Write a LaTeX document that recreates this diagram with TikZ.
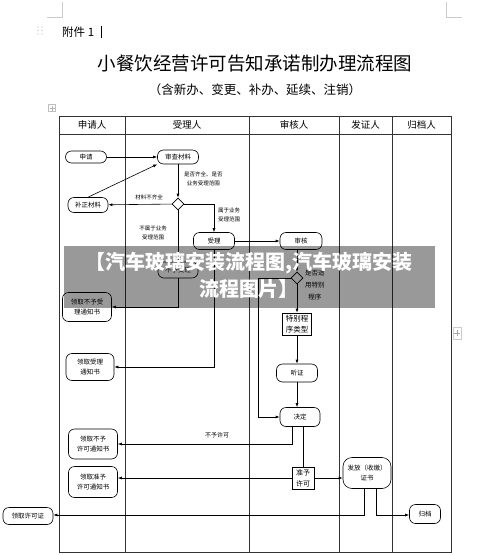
\documentclass[tikz,border=0pt]{standalone}
\usepackage{fontspec}
\setmainfont{Noto Sans CJK SC}
\usetikzlibrary{arrows.meta,shapes.geometric}

\tikzset{
  lane/.style={line width=0.7pt, black!80},
  stepbox/.style={draw, rounded corners=6pt, line width=0.6pt, inner sep=1pt,
    align=center, font=\fontsize{6.5}{10}\selectfont},
  sqbox/.style={draw, line width=0.6pt, inner sep=1pt, align=center,
    font=\fontsize{7.5}{11.5}\selectfont},
  choice/.style={draw, diamond, line width=0.6pt, minimum width=12pt,
    minimum height=12pt, inner sep=0pt},
  flow/.style={line width=0.6pt, -{Latex[length=4pt,width=3pt]}},
  plain/.style={line width=0.6pt},
  note/.style={font=\fontsize{5.5}{9}\selectfont, align=center, inner sep=0pt},
}

\begin{document}
\begin{tikzpicture}[x=1pt,y=-1pt]
\useasboundingbox (0,0) rectangle (500,555);
% page corner marks and handles
\draw[gray!40, line width=0.6pt] (62,2) -- (62,17) -- (47,17);
\draw[gray!40, line width=0.6pt] (446,2) -- (446,17) -- (462,17);
\foreach \x in {38,42} \foreach \y in {27,30.5,34} \fill[gray!60] (\x,\y) circle (0.6);
\node[anchor=west, font=\fontsize{11.5}{13}\selectfont, inner sep=0pt] (annex) at (62,32) {附件 1};
\draw[line width=0.6pt] (101,26) -- (101,38); % cursor
\node[font=\fontsize{18.5}{20}\selectfont] (title) at (255,64) {小餐饮经营许可告知承诺制办理流程图};
\node[font=\fontsize{12.5}{14}\selectfont] (subtitle) at (255,90) {（含新办、变更、补办、延续、注销）};
\draw[gray!50, line width=0.4pt] (48.5,104.5) rectangle (55.5,111.5);
\draw[gray!60, line width=0.4pt] (52,105.5) -- (52,110.5) (49.5,108) -- (54.5,108);
\draw[gray!40, line width=0.4pt] (453,327) rectangle (461,339);
\draw[gray!70, line width=0.4pt] (457,330) -- (457,336) (454,333) -- (460,333);

% swim lanes
\draw[lane] (59,116) rectangle (451,552);
\draw[lane] (59,134) -- (451,134);
\foreach \x in {125,249,339,392} \draw[lane] (\x,116) -- (\x,552);
\foreach \x/\t [count=\i] in {92/申请人, 187/受理人, 294/审核人, 365.5/发证人, 421.5/归档人}
  \node[font=\fontsize{9.5}{11}\selectfont] (head\i) at (\x,125) {\t};

% steps
\node[stepbox, minimum width=41pt, minimum height=12pt] (apply) at (86,157) {申请};
\node[stepbox, minimum width=41pt, minimum height=14pt] (check) at (178,157) {审查材料};
\node[stepbox, minimum width=40pt, minimum height=15pt] (supp) at (88,205) {补正材料};
\node[choice] (dec1) at (178,204) {};
\node[stepbox, minimum width=40pt, minimum height=16pt] (reject) at (178,270) {不予受理};
\node[stepbox, minimum width=49pt, minimum height=29pt] (rejnote) at (87,307) {领取不予受\\理通知书};
\node[stepbox, minimum width=41pt, minimum height=17pt] (accept) at (214,241) {受理};
\node[stepbox, minimum width=42pt, minimum height=17pt] (review) at (301,241) {审核};
\node[stepbox, minimum width=48pt, minimum height=27pt] (accnote) at (90,367) {领取受理\\通知书};
\node[choice] (dec2) at (297,278) {};
\node[sqbox, minimum width=29pt, minimum height=22pt] (special) at (297,324) {特别程\\序类型};
\node[stepbox, minimum width=41pt, minimum height=18pt] (hearing) at (297,373) {听证};
\node[stepbox, minimum width=40pt, minimum height=19pt] (decide) at (300,417) {决定};
\node[stepbox, minimum width=49pt, minimum height=30pt] (deny) at (93,444) {领取不予\\许可通知书};
\node[sqbox, minimum width=22pt, minimum height=22pt, font=\fontsize{7}{11}\selectfont] (grant) at (303,478) {准予\\许可};
\node[stepbox, minimum width=49pt, minimum height=31pt] (granote) at (93,482) {领取准予\\许可通知书};
\node[stepbox, rounded corners=9pt, minimum width=48pt, minimum height=31pt] (issue) at (367,473) {发放（收缴）\\证书};
\node[stepbox, minimum width=31pt, minimum height=19pt] (archive) at (425,514) {归档};
\node[stepbox, minimum width=50pt, minimum height=17pt] (licence) at (28,516) {领取许可证};
\coordinate (bypass) at (258,278);
\coordinate (split) at (364,515);
\coordinate (split2) at (376,515);

% connectors
\draw[flow] (apply) -- (check);
\draw[flow] (supp.north) -- (check.south west);
\draw[flow] (check) -- (dec1);
\draw[flow] (dec1) -- (supp);
\draw[flow] (dec1.east) -| (accept.north);
\draw[flow] (dec1) -- (reject);
\draw[flow] (reject.south) |- (rejnote.east);
\draw[flow] (accept) -- (review);
\draw[flow] (accept.south) |- (accnote.east);
\draw[flow] (review.south -| dec2) -- (dec2);
\draw[flow] (dec2) -- (special);
\draw[flow] (dec2.west) -- (bypass) |- (decide.west);
\draw[flow] (special) -- (hearing);
\draw[flow] (hearing.south) -- (hearing.south |- decide.north);
\draw[flow] ([xshift=-8pt]decide.south) |- (deny.east);
\draw[plain] (decide.south -| grant) -- (grant);
\draw[flow] (grant) -- (granote.east |- grant);
\draw[flow] (grant) -- (issue.west |- grant);
\draw[flow] (issue.south -| split) -- (split) -- (licence.east |- split);
\draw[flow] (issue.south -| split2) -- (split2) -- (archive.west |- split2);

% labels
\node[note, anchor=west] (l1) at (184,179) {是否齐全、是否\\业务受理范围};
\node[note] (l2) at (149,197) {材料不齐全};
\node[note, anchor=west] (l3) at (218,215) {属于业务\\受理范围};
\node[note] (l4) at (153,233) {不属于业务\\受理范围};
\node[note, anchor=west, font=\fontsize{6.5}{12}\selectfont] (l5) at (305,285) {是否适\\用特别\\程序};
\node[note, font=\fontsize{6}{9}\selectfont] (l6) at (217,435) {不予许可};

% overlay band
\fill[black, opacity=0.4] (64,246) rectangle (435,308);
\node[white, font=\bfseries\fontsize{20}{27}\selectfont, align=center] (mark) at (249,275)
  {【汽车玻璃安装流程图,汽车玻璃安装\\流程图片】};
\end{tikzpicture}
\end{document}
